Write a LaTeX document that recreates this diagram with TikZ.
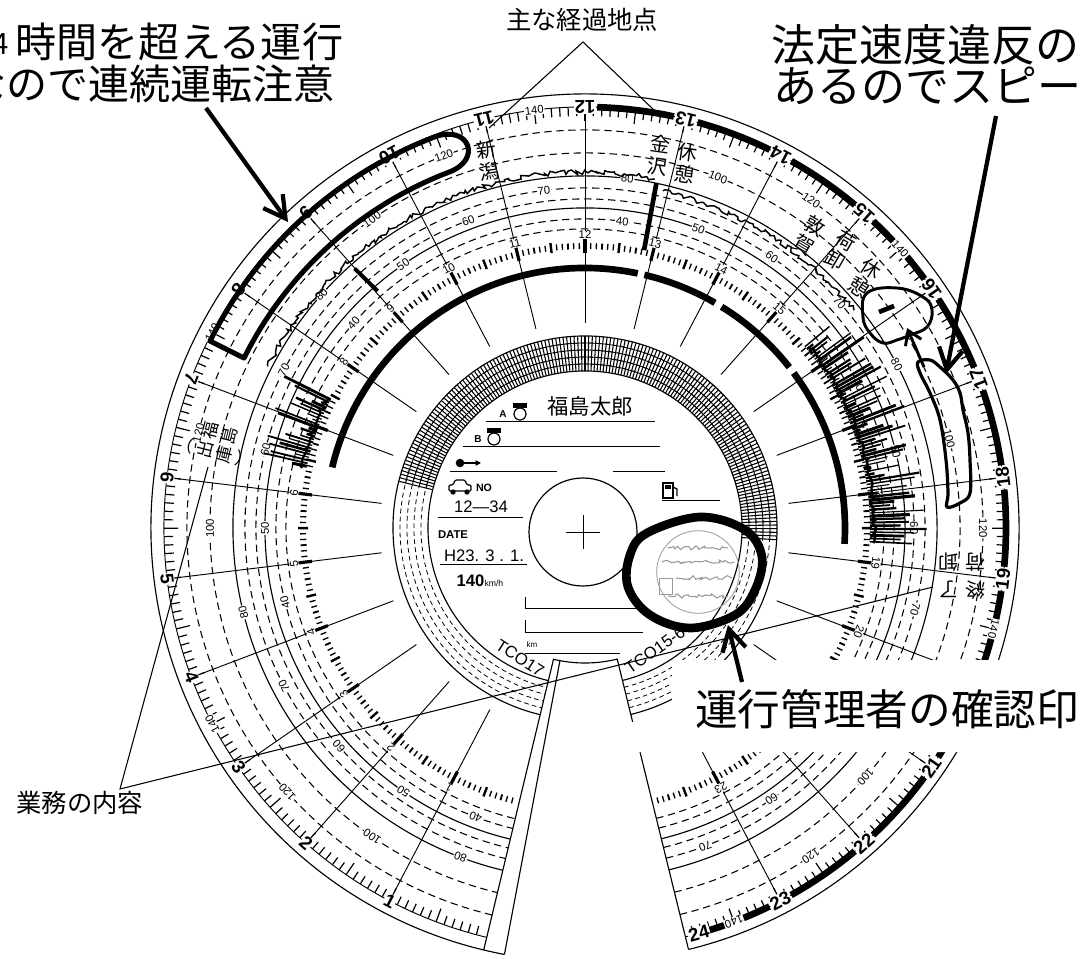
\documentclass[tikz,border=0pt]{standalone}
\usepackage{fontspec}
\setmainfont{Liberation Sans}
\setsansfont{Liberation Sans}
\newfontfamily\jp{Noto Sans CJK JP}
\usetikzlibrary{decorations.pathmorphing,arrows.meta}
\newcommand\hidtest[2]{%
  \pgfmathsetmacro\xQ{585+(#2)*cos(#1)}%
  \pgfmathsetmacro\yQ{528-(#2)*sin(#1)}%
  \pgfmathtruncatemacro\hid{and(and(\xQ>664,\yQ>650),\yQ<760)}}
\begin{document}
\begin{tikzpicture}[x=0.75pt,y=-0.75pt,
  thinl/.style={line width=0.7pt},
  circ/.style={line width=0.85pt},
  dsh/.style={line width=0.8pt,dash pattern=on 5.5pt off 3.5pt},
  dshs/.style={line width=0.6pt,dash pattern=on 3.5pt off 2.5pt},
  barl/.style={line width=5pt},
  hnum/.style={font=\bfseries\fontsize{14}{14}\selectfont,fill=white,inner sep=0.5pt},
  inum/.style={font=\fontsize{8.5}{8.5}\selectfont,fill=white,inner sep=0.3pt},
  snum/.style={font=\fontsize{8.5}{8.5}\selectfont,fill=white,inner sep=0.6pt},
  placelbl/.style={font=\jp\fontsize{15}{16.5}\selectfont,align=center,inner sep=0pt},
  bigl/.style={font=\jp\fontsize{30.8}{31}\selectfont,inner sep=0pt},
  bigr/.style={font=\jp\fontsize{33}{33}\selectfont,inner sep=0pt},
  midt/.style={font=\jp\fontsize{19}{19}\selectfont,inner sep=0pt},
  penarrow/.style={line width=3.2pt,-{Straight Barb[length=16pt,width=18pt]}},
  handline/.style={line width=3.2pt,line join=round},
  leader/.style={line width=0.8pt},
  jag/.style={decorate,decoration={random steps,segment length=2.2pt,amplitude=1.8pt}},
]
\useasboundingbox (0,0) rectangle (1085,959);
\clip (0,0) rectangle (1085,959);
\fill[white] (0,0) rectangle (1085,959);

\begin{scope}[shift={(585,528)},yscale=-1]
% rings
\draw[circ] (-76.2:434) arc (-76.2:259.3:434);
\draw[thinl] (-76.2:421) arc (-76.2:256.5:421);
\foreach \rad in {398,375,340,329,309,299} \draw[dsh] (-76.2:\rad) arc (-76.2:256.5:\rad);
\foreach \rad in {352,320,192,157} \draw[circ] (-76.2:\rad) arc (-76.2:256.5:\rad);
\foreach \rad in {185,178,171,164} \draw[dshs] (-76.2:\rad) arc (-76.2:256.5:\rad);
% hour radial lines
\foreach \hh in {1,...,23}{
  \pgfmathsetmacro\hA{256.2-13.85*\hh}
  \draw[thinl] (\hA:410) -- (\hA:205);
}
% outer ticks
\foreach \mi in {1,...,287}{
  \pgfmathsetmacro\hA{256.2-13.85*\mi/12}
  \pgfmathsetmacro\qA{ifthenelse(mod(\mi,6)==0,407,412)}
  \draw[line width=0.9pt] (\hA:421) -- (\hA:\qA);
}
% inner dotted tick ring
\foreach \mi in {1,...,287}{
  \pgfmathsetmacro\hA{256.2-13.85*\mi/12}
  \pgfmathsetmacro\wA{ifthenelse(mod(\mi,12)==0,2.4,ifthenelse(mod(\mi,6)==0,1.8,ifthenelse(mod(\mi,3)==0,1.4,1.0)))}
  \pgfmathsetmacro\rA{ifthenelse(mod(\mi,12)==0,275,ifthenelse(mod(\mi,6)==0,277,279))}
  \pgfmathsetmacro\rB{ifthenelse(mod(\mi,12)==0,289,ifthenelse(mod(\mi,6)==0,287,285))}
  \draw[line width=\wA pt] (\hA:\rA) -- (\hA:\rB);
}
% driving bars on outer ring
\foreach \hh in {12,...,23}{
  \pgfmathsetmacro\aA{256.2-13.85*(\hh+0.12)}
  \pgfmathsetmacro\aB{256.2-13.85*(\hh+0.88)}
  \draw[barl] (\aA:421) arc (\aA:\aB:421);
}
% hatched distance ring
\foreach \ang in {-3.5,-2.4,...,166}{\draw[line width=0.8pt] (\ang:157) -- (\ang:192);}
\foreach \rad in {164,171,178,185}{\draw[line width=0.6pt] (-3.5:\rad) arc (-3.5:166:\rad);}
% inner thick arc
\foreach \sA/\eA in {166.5/78.3,76.8/60,58.3/38.2,36.6/-3.5}{\draw[line width=5pt] (\sA:260) arc (\sA:\eA:260);}
% hour numbers
\foreach \hh in {1,...,23}{
  \pgfmathsetmacro\hA{256.2-13.85*\hh}
  \pgfmathsetmacro\rO{\hA+90}
  \pgfmathsetmacro\rI{\hA-90}
  \hidtest{\hA}{421}
  \ifnum\hid=0 \node[hnum,rotate=\rO] (ho\hh) at (\hA:421) {\hh};\fi
  \hidtest{\hA}{293}
  \ifnum\hid=0 \node[inum,rotate=\rI] (hi\hh) at (\hA:293) {\hh};\fi
}
\node[hnum,rotate=15.7] (ho24) at (-74.3:421) {24};
% speed labels
\foreach \kk/\vO/\rOut/\vI/\rIn in {0/80/352/40/309,1/100/375/50/320,2/120/398/60/329,3/140/421/70/340}{
  \foreach \nn in {0,...,5}{
    \pgfmathsetmacro\hA{256.2-13.85*(0.5+\kk+4*\nn)}
    \pgfmathsetmacro\rT{\hA-90}
    \hidtest{\hA}{\rOut}
    \ifnum\hid=0 \node[snum,rotate=\rT] (so\kk\nn) at (\hA:\rOut) {\vO};\fi
    \hidtest{\hA}{\rIn}
    \ifnum\hid=0 \node[snum,rotate=\rT] (si\kk\nn) at (\hA:\rIn) {\vI};\fi
  }
}
% speed traces and stop marks
\pgfmathsetseed{12}
\draw[line width=1.1pt,jag] (153:356) arc (153:78.8:356);
\draw[line width=1.1pt,jag] (77:346) arc (77:39:346);
\draw[line width=1.8pt,jag] (39:289) arc (39:-3:289);
\draw[line width=1.6pt,jag] (168:289) arc (168:153:289);
\draw[line width=3.5pt] (78.3:352) -- (78:284);
\draw[line width=3pt] (131.6:347) -- (131.2:315);
\foreach \ii in {0,...,23}{
  \pgfmathsetmacro\aT{167.5-\ii*0.62}
  \pgfmathsetmacro\rR{292+45*rnd}
  \pgfmathsetmacro\lW{0.8+1.6*rnd}
  \draw[line width=\lW pt] (\aT:285) -- (\aT:\rR);
}
\foreach \ii in {0,...,66}{
  \pgfmathsetmacro\aT{39.5-\ii*0.64}
  \pgfmathsetmacro\rR{292+50*rnd}
  \pgfmathsetmacro\lW{0.8+1.6*rnd}
  \draw[line width=\lW pt] (\aT:285) -- (\aT:\rR);
}
% hand-drawn loop (continuous driving)
\draw[handline,line width=3.8pt] (153.5:419) arc (153.5:111:419) .. controls (106:420) and (105.5:382) .. (111:381) arc (111:153.5:381) -- cycle;
% cut-out
\draw[circ] (256.5:434) -- (256.5:135) arc (256.5:283.8:135) -- (283.8:434);
\draw[circ] (259.3:135) -- (259.3:434);
\end{scope}

% right hand-drawn loops
\draw[line width=2.2pt] plot[smooth cycle, tension=0.7] coordinates {(867,293) (897,288) (923,297) (932,310) (927,327) (910,335) (897,340) (883,343) (870,333) (863,317)};
\draw[line width=3.5pt] (879,312) -- (894,306);
\draw[line width=2.4pt] plot[smooth cycle, tension=0.6] coordinates {(918,362) (930,360) (940,367) (953,380) (960,393) (963,410) (968,433) (970,460) (970,493) (960,503) (947,507) (948,493) (946,460) (940,420) (930,393) (920,373)};

% place names
\node[placelbl,rotate=8] (niigata) at (488,161) {新\\潟};
\node[placelbl,rotate=-8] (kanazawa) at (659,155) {金\\沢};
\node[placelbl,rotate=-8] (kyukeiA) at (686,163) {休\\憩};
\node[placelbl,rotate=-30] (tsuruga) at (809,235) {敦\\賀};
\node[placelbl,rotate=-30] (nioroshi) at (840,250) {荷\\卸};
\node[placelbl,rotate=-33] (kyukeiB) at (865,278) {休\\憩};
\node[rotate=76,font=\jp\fontsize{13}{13.5}\selectfont,inner sep=0pt] (fukushima) at (220,443)
  {\renewcommand\arraystretch{1}\begin{tabular}{@{}c@{\hspace{2pt}}c@{}}︵&\\出&福\\庫&島\\︶&\end{tabular}};
\node[rotate=180,font=\jp\fontsize{15}{21}\selectfont,align=center,inner sep=0pt] (niageend) at (962,576) {終\hspace{5pt}了\\荷\hspace{5pt}卸};

% inner disc
\node[font=\jp\fontsize{16}{16}\selectfont,inner sep=0pt] (driver) at (590,406) {福島太郎};
\draw[thinl] (486,421) -- (655,421);
\node[font=\bfseries\fontsize{7.5}{7.5}\selectfont,inner sep=0pt] (lblA) at (503,414) {A};
\draw[line width=0.9pt] (520,414) circle (4.5pt);
\fill (513,403) rectangle (527,408);
\node[font=\bfseries\fontsize{7.5}{7.5}\selectfont,inner sep=0pt] (lblB) at (478,439) {B};
\draw[line width=0.9pt] (494,439) circle (4.5pt);
\fill (487,428) rectangle (501,433);
\draw[thinl] (463,446) -- (660,446);
\fill (460,463) circle (3.2pt);
\draw[line width=1pt,-{Triangle[length=4pt,width=4pt]}] (464,463) -- (481,463);
\draw[thinl] (450,471) -- (557,471);
\draw[thinl] (613,471) -- (665,471);
\draw[line width=0.9pt,rounded corners=1pt] (449,491) -- (449,485) -- (453,485) -- (455,480) -- (465,480) -- (467,485) -- (471,485) -- (471,491) -- cycle;
\fill (453,492) circle (2pt);
\fill (467,492) circle (2pt);
\node[font=\bfseries\fontsize{8}{8}\selectfont,inner sep=0pt] (lblNO) at (484,488) {NO};
\node[font=\fontsize{12.5}{12.5}\selectfont,inner sep=0pt] (carno) at (481,507) {12—34};
\draw[thinl] (438,517) -- (523,517);
\draw[line width=1pt] (663,483) rectangle (673,498);
\fill (665,485) rectangle (671,489);
\draw[line width=0.9pt] (673,487) -- (677,489) -- (677,496);
\draw[thinl] (662,500) -- (720,500);
\node[font=\bfseries\fontsize{8.5}{8.5}\selectfont,inner sep=0pt] (lblDATE) at (453,535) {DATE};
\node[font=\fontsize{12.5}{12.5}\selectfont,inner sep=0pt] (dateval) at (484,556) {H23. 3 . 1.};
\draw[thinl] (440,564) -- (527,564);
\node[inner sep=0pt] (vmax) at (480,581) {\bfseries\fontsize{12.5}{12.5}\selectfont 140\mdseries\fontsize{6.5}{6.5}\selectfont km/h};
\draw[line width=0.9pt] (583,532) circle (40.5pt);
\draw[thinl] (566,532) -- (600,532);
\draw[thinl] (583,515) -- (583,549);
\draw[thinl] (525,597) -- (525,608) -- (640,608);
\draw[thinl] (525,620) -- (525,632) -- (643,632);
\node[font=\fontsize{6}{6}\selectfont,inner sep=0pt] (lblkm) at (532,645) {km};
\draw[thinl] (525,653) -- (620,653);
\node[font=\fontsize{12.5}{12.5}\selectfont,inner sep=0pt,rotate=-33] (tco17) at (520,658) {TCO17};
\node[font=\fontsize{12.5}{12.5}\selectfont,inner sep=0pt,rotate=35] (tco156) at (655,650) {TCO15-6};

% manager's stamp
\draw[gray!70,line width=0.7pt] (698,572) circle (31pt);
\draw[gray!80,line width=0.8pt,jag] (668,548) -- (728,548);
\draw[gray!80,line width=0.8pt,jag] (662,562) -- (734,562);
\draw[gray!80,line width=0.8pt,jag] (676,578) -- (732,578);
\draw[gray!80,line width=0.8pt,jag] (668,596) -- (728,596);
\draw[gray!80,line width=0.7pt] (659,578) rectangle (672,594);
\draw[line width=6.5pt,line join=round] plot[smooth cycle, tension=0.6] coordinates {(647,533) (700,517) (745,530) (762,557) (755,590) (735,615) (690,628) (650,615) (628,587) (630,555)};

% white band behind the lower caption
\fill[white] (672,660) -- (1085,660) -- (1085,752) -- (622,752) -- (622,722) -- (672,722) -- cycle;

% captions
\node[font=\jp\fontsize{22}{22}\selectfont,inner sep=0pt,anchor=east] (capAa) at (9,44) {4};
\node[bigl,anchor=west] (capA) at (15.5,42) {時間を超える運行};
\node[bigl,anchor=east] (capB) at (335,84) {なので連続運転注意};
\node[bigr,anchor=west] (capC) at (771,45) {法定速度違反の};
\node[bigr,anchor=west] (capD) at (773,86) {あるのでスピード};
\node[midt] (keika) at (582,20) {主な経過地点};
\node[midt] (gyomu) at (80,803) {業務の内容};
\node[font=\jp\fontsize{32}{32}\selectfont,inner sep=0pt] (kakunin) at (887,709) {運行管理者の確認印};

% leaders
\coordinate (apT) at (583,42);
\coordinate (pN) at (489,128);
\coordinate (pK) at (656,112);
\draw[leader] (pN) -- (apT) -- (pK);
\coordinate (apB) at (120,789);
\coordinate (pF) at (208,467);
\coordinate (pU) at (933,587);
\draw[leader] (pF) -- (apB) -- (pU);

% arrows
\coordinate (aAs) at (206,108);
\coordinate (aAe) at (288,222);
\draw[penarrow] (aAs) -- (aAe);
\coordinate (aBs) at (996,116);
\coordinate (aBe) at (946,374);
\draw[penarrow] (aBs) -- (aBe);
\coordinate (aCs) at (924,367);
\coordinate (aCe) at (907,328);
\draw[line width=2.2pt,-{Straight Barb[length=10pt,width=13pt]}] (aCs) -- (aCe);
\coordinate (aDs) at (742,682);
\coordinate (aDe) at (728,625);
\draw[penarrow] (aDs) -- (aDe);
\end{tikzpicture}
\end{document}
